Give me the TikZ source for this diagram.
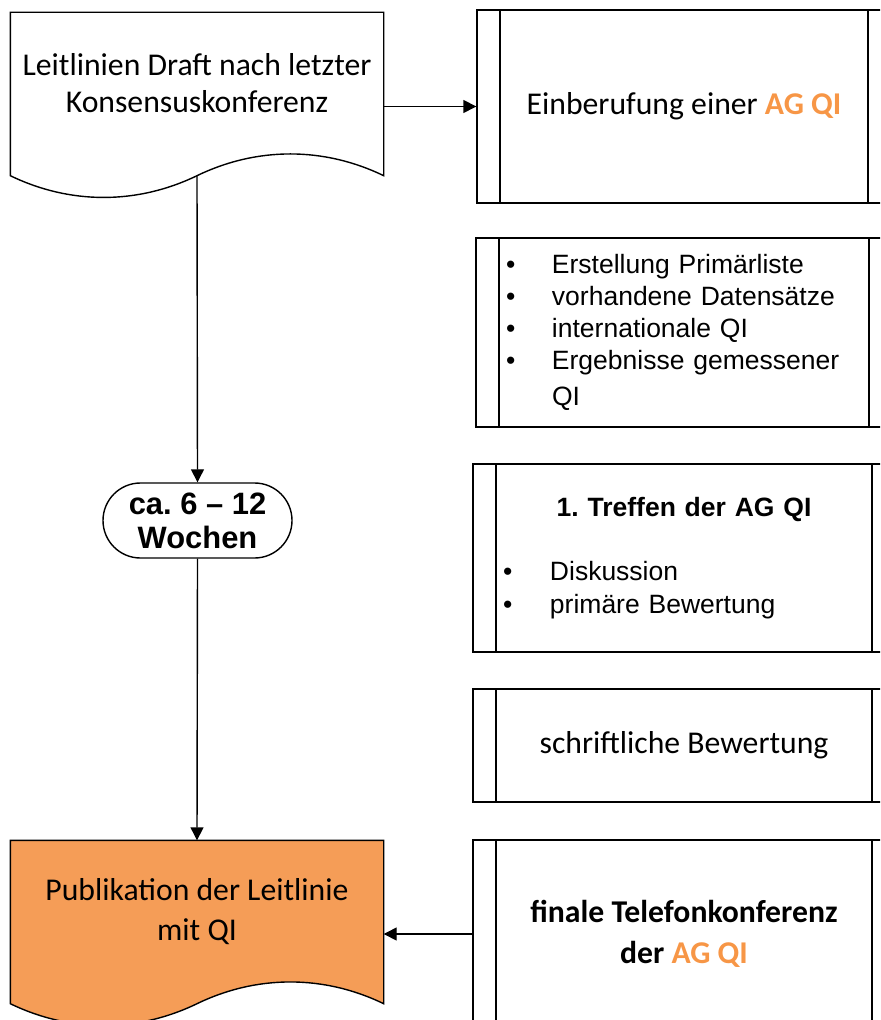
\documentclass[tikz,border=0pt]{standalone}
\usepackage{fontspec}
\setmainfont{Carlito}
\newfontfamily\arialfont{Liberation Sans}
\usepackage{tikz}
\usetikzlibrary{arrows.meta,shapes.misc,calc}
\definecolor{agorange}{HTML}{F79646}
\definecolor{docorange}{RGB}{245,157,87}
\newcommand\docshape[2]{%
  \draw[#2] (#1.south west) -- (#1.north west) -- (#1.north east) -- (#1.south east)
    .. controls ($(#1.south east)+(-60,-29)$) and ($(#1.south)+(60,-29)$) .. (#1.south)
    .. controls ($(#1.south)+(-60,29)$) and ($(#1.south west)+(60,29)$) .. (#1.south west) -- cycle;}

\begin{document}
\begin{tikzpicture}[x=0.5pt, y=-0.5pt, line width=0.7pt,
  arr/.style={-{Triangle[length=6.5pt,width=6.5pt]}},
  docbox/.style={minimum width=186pt, minimum height=81pt, inner sep=0pt},
  proc/.style={draw, inner sep=0pt, align=center, path picture={
    \draw ([xshift=11.5pt]path picture bounding box.north west) -- ([xshift=11.5pt]path picture bounding box.south west);
    \draw ([xshift=-11.5pt]path picture bounding box.north east) -- ([xshift=-11.5pt]path picture bounding box.south east);}},
  calib/.style={font=\fontsize{15.85pt}{18.5pt}\selectfont},
  arial/.style={font=\arialfont\fontsize{13.25pt}{16pt}\selectfont}]
\useasboundingbox (0,0) rectangle (880,1020);
\clip (0,0) rectangle (880,1020);

\node[docbox] (draft) at (197,94) {};
\docshape{draft}{}
\node[calib, align=center] at ([yshift=5.25pt]draft.center) {Leitlinien Draft nach letzter\\Konsensuskonferenz};

\node[rounded rectangle, draw, minimum width=94.5pt, minimum height=37.5pt, inner sep=0pt, align=center,
  font=\arialfont\bfseries\fontsize{15.45pt}{17pt}\selectfont] (dauer) at (197.5,520.5) {ca.\ 6 – 12\\Wochen};

\node[docbox] (publ) at (197,922) {};
\docshape{publ}{fill=docorange}
\node[align=center, font=\fontsize{15.85pt}{20pt}\selectfont] at ([yshift=5pt]publ.center) {Publikation der Leitlinie\\mit QI};

\node[proc, calib, minimum width=207pt, minimum height=96.5pt] (ein) at (684,106.5)
  {Einberufung einer \textbf{\color{agorange}AG QI}};
\node[proc, arial, minimum width=208pt, minimum height=94.5pt, text width=178pt, align=left] (liste) at (684,332.5)
  {\makebox[23pt][l]{\textbullet}Erstellung Primärliste\\
   \makebox[23pt][l]{\textbullet}vorhandene Datensätze\\
   \makebox[23pt][l]{\textbullet}internationale QI\\
   \makebox[23pt][l]{\textbullet}Ergebnisse gemessener\\[2pt]
   \hspace*{23pt}QI};
\node[proc, font=\arialfont\fontsize{13.25pt}{16.5pt}\selectfont, minimum width=211pt, minimum height=94pt,
  text width=181pt, align=left] (treffen) at (684,558)
  {\makebox[\hsize][c]{\bfseries 1.\ Treffen der AG QI}\\[15.5pt]
   \makebox[23.5pt][l]{\textbullet}Diskussion\\
   \makebox[23.5pt][l]{\textbullet}primäre Bewertung};
\node[proc, calib, minimum width=211pt, minimum height=56.5pt] (bew) at (684,745.5) {schriftliche Bewertung};
\node[proc, font=\bfseries\fontsize{15.85pt}{20.5pt}\selectfont, minimum width=211pt, minimum height=94pt] (telko) at (684,934)
  {finale Telefonkonferenz\\der {\color{agorange}AG QI}};

\draw[arr] (draft.south) -- (dauer.north);
\draw[arr] (dauer.south) -- (publ.north);
\draw[arr] (draft.east |- ein.west) -- (ein.west);
\draw[arr] (telko.west) -- (telko.west -| publ.east);
\end{tikzpicture}
\end{document}
